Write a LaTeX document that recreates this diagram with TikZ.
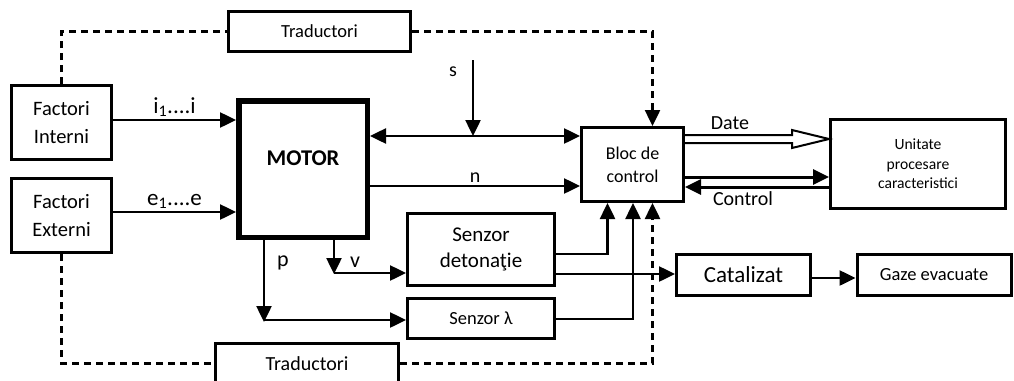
\documentclass[tikz,border=0pt]{standalone}
\usepackage{fontspec}
\setmainfont{Carlito}
\usetikzlibrary{arrows.meta, positioning}

\begin{document}
\begin{tikzpicture}[
    x=1pt, y=-1pt,
    box/.style={draw, line width=3pt, align=center, inner sep=2pt,
        font=\fontsize{18.5}{22}\selectfont},
    edge_label/.style={inner sep=2pt, font=\fontsize{20}{24}\selectfont},
    arr/.style={line width=2.5pt, -{Triangle[length=16pt, width=15pt]}},
    both_arr/.style={line width=2.5pt,
        {Triangle[length=16pt, width=15pt]}-{Triangle[length=16pt, width=15pt]}},
    dash_line/.style={line width=2.5pt, dash pattern=on 7pt off 5pt},
]
    \useasboundingbox (0,0) rectangle (1014,380);

    % blocks
    \node[box, minimum width=182pt, minimum height=40pt] (tr_top) at (319.5,31.5) {Traductori};
    \node[box, minimum width=100pt, minimum height=74pt,
        font=\fontsize{20.5}{28}\selectfont] (f_int) at (61.5,122.5) {Factori\\Interni};
    \node[box, minimum width=100pt, minimum height=74pt,
        font=\fontsize{20.5}{28}\selectfont] (f_ext) at (61.5,215.5) {Factori\\Externi};
    \node[box, line width=5.5pt, minimum width=128.5pt, minimum height=136.5pt, text depth=22pt,
        font=\bfseries\fontsize{22.5}{27}\selectfont] (motor) at (303,169) {MOTOR};
    \node[box, minimum width=102pt, minimum height=74pt,
        font=\fontsize{18}{23}\selectfont] (bloc) at (632.5,164.5) {Bloc de\\control};
    \node[box, minimum width=175pt, minimum height=89pt,
        font=\fontsize{15.6}{19.5}\selectfont] (unit) at (918,164) {Unitate\\procesare\\caracteristici};
    \node[box, minimum width=147pt, minimum height=72pt,
        font=\fontsize{21}{26}\selectfont] (s_det) at (481,249.5) {Senzor\\detonaţie};
    \node[box, minimum width=147pt, minimum height=40pt] (s_lam) at (481,318.5) {Senzor λ};
    \node[box, minimum width=134pt, minimum height=41pt,
        font=\fontsize{23}{28}\selectfont] (cat) at (743.5,275) {Catalizat};
    \node[box, minimum width=154pt, minimum height=41pt] (gaze) at (934,275) {Gaze evacuate};
    \node[box, minimum width=183pt, minimum height=40pt,
        font=\fontsize{20}{24}\selectfont] (tr_bot) at (307,363.5) {Traductori};

    % dashed links through the transducers
    \draw[dash_line] (f_int.north) |- (tr_top.west);
    \draw[dash_line, -{Triangle[length=16pt, width=15pt]}] (tr_top.east) -| ([xshift=20pt]bloc.north);
    \draw[dash_line] (f_ext.south) |- (tr_bot.west);
    \draw[dash_line, -{Triangle[length=16pt, width=15pt]}] (tr_bot.east) -| ([xshift=20pt]bloc.south);

    % inputs of the engine
    \draw[arr] (f_int.east |- 0,120) -- node[edge_label, above, font=\fontsize{23}{26}\selectfont]
        {i\textsubscript{1}....i} (motor.west |- 0,120);
    \draw[arr] (f_ext.east |- 0,212) -- node[edge_label, above, font=\fontsize{23}{26}\selectfont]
        {e\textsubscript{1}....e} (motor.west |- 0,212);

    % engine and control unit
    \coordinate (s_top) at (473,60);
    \coordinate (s_join) at (473,136);
    \node[edge_label] (s_lbl) at (453,72) {s};
    \draw[both_arr] (motor.east |- s_join) -- (bloc.west |- s_join);
    \draw[arr] (s_top) -- (s_join);
    \draw[arr] (motor.east |- 0,186) -- node[edge_label, above] {n} (bloc.west |- 0,186);

    % data and control
    \draw[line width=2pt, line join=miter] (bloc.east |- 0,135) -- (792,135) -- (792,130)
        -- (unit.west |- 0,139) -- (792,148) -- (792,143) -- (bloc.east |- 0,143);
    \node[edge_label] (date_lbl) at (730,123) {Date};
    \draw[arr, line width=3pt] (bloc.east |- 0,177) -- (unit.west |- 0,177);
    \draw[arr, line width=3pt] (unit.west |- 0,187) -- (bloc.east |- 0,187);
    \node[edge_label] (ctl_lbl) at (743,199) {Control};

    % sensors
    \coordinate (p_bend) at (264,320);
    \coordinate (v_bend) at (334,273);
    \draw[arr] (motor.south -| p_bend) -- ([yshift=-2pt]p_bend);
    \draw[arr] (p_bend) -- (s_lam.west |- p_bend);
    \node[edge_label, font=\fontsize{22}{26}\selectfont] (p_lbl) at (283,263) {p};
    \draw[arr] (motor.south -| v_bend) -- ([yshift=-1pt]v_bend);
    \draw[arr] (v_bend) -- (s_det.west |- v_bend);
    \node[edge_label, font=\fontsize{22}{26}\selectfont] (v_lbl) at (355,262) {v};

    \draw[arr] (s_det.east |- 0,254) -| ([xshift=-25pt]bloc.south);
    \draw[arr] (s_lam.east |- 0,319) -| ([xshift=0.5pt]bloc.south);
    \draw[arr] (s_det.east |- 0,274) -- (cat.west |- 0,274);
    \draw[arr] (cat.east |- 0,278) -- (gaze.west |- 0,278);
\end{tikzpicture}
\end{document}
